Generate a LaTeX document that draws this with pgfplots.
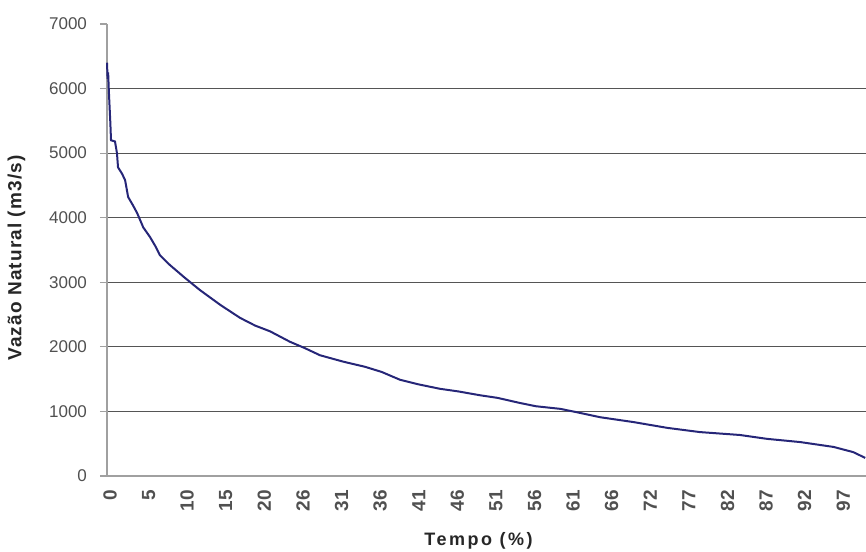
\documentclass[border=0pt]{standalone}
\usepackage{pgfplots}
\pgfplotsset{compat=1.18}
\usepackage{fontspec}
\setmainfont{Liberation Sans}
\definecolor{curve}{RGB}{38,38,120}
\definecolor{gridc}{RGB}{85,85,85}
\definecolor{axisc}{RGB}{160,160,160}
\definecolor{labc}{RGB}{80,80,80}

\begin{document}
\begin{tikzpicture}
\begin{axis}[
  scale only axis,
  width=379.5pt, height=226pt,
  xmin=0, xmax=100.5, ymin=0, ymax=7000,
  axis lines*=left,
  axis line style={axisc, line width=0.8pt, -},
  ytick={1000,2000,...,6000},
  extra y ticks={0,7000},
  extra y tick style={grid=none},
  ymajorgrids,
  major grid style={gridc, line width=0.6pt},
  ytick style={axisc, line width=0.6pt},
  tick align=outside,
  major tick length=3.5pt,
  xtick={0,5.11,10.22,15.33,20.44,25.55,30.66,35.77,40.88,45.99,51.1,56.21,61.32,66.43,71.54,76.65,81.76,86.87,91.98,97.09},
  xticklabels={0,5,10,15,20,26,31,36,41,46,51,56,61,66,72,77,82,87,92,97},
  xtick style={draw=none},
  xticklabel style={rotate=90, anchor=east, font=\fontsize{9.5}{10}\selectfont\bfseries, text=labc, yshift=-1.5pt},
  yticklabel style={font=\fontsize{8.5}{10}\selectfont, text=labc, xshift=-3pt},
  /pgf/number format/assume math mode=true,
  scaled y ticks=false,
  y tick label style={/pgf/number format/1000 sep={}},
  xlabel={\addfontfeature{LetterSpace=14}Tempo (\%)},
  ylabel={\addfontfeature{LetterSpace=6}Vazão Natural (m3/s)},
  xlabel style={font=\fontsize{9}{10}\selectfont\bfseries, text=black!85, xshift=-4pt, yshift=-4pt},
  ylabel style={font=\fontsize{9.5}{10}\selectfont\bfseries, text=black!85, yshift=-2pt, xshift=-4pt},
  clip=false,
]
\addplot[curve, line width=1pt] coordinates {
  (0,6400) (0.08,6150) (0.15,6250) (0.25,5950) (0.35,5700) (0.45,5450) (0.53,5200)
  (1.06,5180) (1.32,5000) (1.46,4780) (2.0,4680) (2.4,4580) (2.8,4320)
  (3.4,4200) (4.0,4070) (4.8,3850) (5.7,3700) (6.4,3560) (7.0,3420)
  (8.3,3270) (10.3,3070) (12.3,2880) (15,2650) (17.6,2450) (19.6,2330)
  (21.6,2240) (24.2,2080) (26.2,1980) (28.2,1870) (31.3,1770) (34.2,1690)
  (36.4,1610) (38.8,1490) (41.2,1420) (44.1,1350) (46.5,1310) (49.4,1250)
  (51.7,1210) (54.7,1130) (56.8,1080) (60,1040) (62.1,990) (65.3,910)
  (69.7,835) (74.2,745) (78.5,680) (83.8,635) (87.4,575) (91.8,525)
  (96.2,450) (98.8,370) (100.4,280)
};
\coordinate (bl) at (rel axis cs:0,0);
\coordinate (tr) at (rel axis cs:1,1);
\end{axis}
\pgfresetboundingbox
\useasboundingbox ([xshift=-53.5pt,yshift=-38pt]bl) rectangle ([yshift=12pt]tr);
\end{tikzpicture}
\end{document}
